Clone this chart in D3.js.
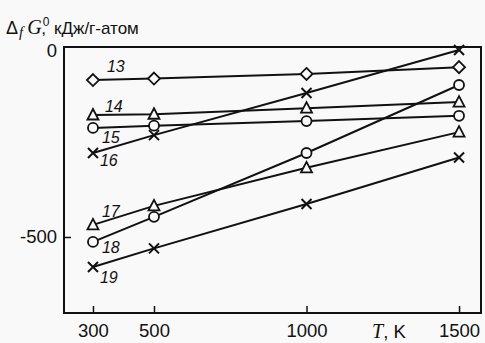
<!DOCTYPE html>
<html>
<head>
<meta charset="utf-8">
<script src="https://cdn.jsdelivr.net/npm/d3@7"></script>
<style>
  body { margin: 0; background: #f9f9f9; }
  svg { display: block; }
</style>
</head>
<body>
<div id="chart"></div>
<script>
// data
const temps = [300, 500, 1000, 1500];
const seriesNames = ["13", "14", "15", "16", "17", "18", "19"];
const s13 = [-87, -83, -71, -53];
const s14 = [-179, -177, -161, -145];
const s15 = [-213, -207, -195, -181];
const s16 = [-279, -232, -121, -8];
const s17 = [-468, -418, -318, -224];
const s18 = [-513, -447, -279, -100];
const s19 = [-579, -530, -413, -291];
const markers = ["diamond", "triangle", "circle", "cross", "triangle", "circle", "cross"];
const xTicks = [300, 500, 1000, 1500];
const yTicks = [0, -500];

const values = [s13, s14, s15, s16, s17, s18, s19];
// label offsets (px) from first point
const labelOff = [[14, -8], [12, -3], [9, 15], [7, 13], [9, -8], [9, 11], [7, 16]];

const width = 485, height = 343;
const bg = "#f9f9f9";
const sans = "'Liberation Sans', Arial, sans-serif";
const serif = "'Liberation Serif', 'Times New Roman', serif";

const svg = d3.select("#chart").append("svg")
  .attr("width", width)
  .attr("height", height);

const x = d3.scaleLinear().domain([205, 1572]).range([64, 481]);
const y = d3.scaleLinear().domain([-700, 0]).range([313, 47]);

// frame
svg.append("rect")
  .attr("x", x.range()[0]).attr("y", y.range()[1])
  .attr("width", x.range()[1] - x.range()[0])
  .attr("height", y.range()[0] - y.range()[1])
  .attr("fill", "none").attr("stroke", "#111").attr("stroke-width", 2);

// x axis (ticks inside)
const xAxis = svg.append("g")
  .attr("transform", "translate(0," + y.range()[0] + ")")
  .call(d3.axisBottom(x).tickValues(xTicks).tickSize(-7).tickPadding(11)
    .tickFormat(d3.format("d")));
xAxis.select(".domain").remove();
xAxis.selectAll("line").attr("stroke", "#111").attr("stroke-width", 1.5);
xAxis.selectAll("text")
  .attr("font-family", sans)
  .attr("font-size", 18.5).attr("fill", "#111");

// y axis (ticks inside)
const yAxis = svg.append("g")
  .attr("transform", "translate(" + x.range()[0] + ",0)")
  .call(d3.axisLeft(y).tickValues(yTicks).tickSize(-7).tickPadding(7)
    .tickFormat(d => d === 0 ? "0" : "-" + Math.abs(d)));
yAxis.select(".domain").remove();
yAxis.selectAll("line").attr("stroke", "#111").attr("stroke-width", 1.5);
yAxis.selectAll(".tick").filter(d => d === 0).select("line").remove();
yAxis.selectAll("text")
  .attr("font-family", sans)
  .attr("font-size", 18.5).attr("fill", "#111");
yAxis.selectAll(".tick").filter(d => d === 0).select("text").attr("dy", "0.5em");

// lines
const line = d3.line().x((d, i) => x(temps[i])).y(d => y(d));
svg.selectAll(".series")
  .data(values)
  .enter().append("path")
  .attr("d", d => line(d))
  .attr("fill", "none").attr("stroke", "#111").attr("stroke-width", 2);

// markers
function drawMarker(g, type) {
  if (type === "diamond") {
    g.append("path").attr("d", "M0,-6L6,0L0,6L-6,0Z")
      .attr("fill", bg).attr("stroke", "#111").attr("stroke-width", 1.8);
  } else if (type === "triangle") {
    g.append("path").attr("d", "M0,-6L5.5,4.5L-5.5,4.5Z")
      .attr("fill", bg).attr("stroke", "#111").attr("stroke-width", 1.8);
  } else if (type === "circle") {
    g.append("circle").attr("r", 5)
      .attr("fill", bg).attr("stroke", "#111").attr("stroke-width", 1.8);
  } else {
    g.append("path").attr("d", "M-5,-5L5,5M-5,5L5,-5")
      .attr("fill", "none").attr("stroke", "#111").attr("stroke-width", 2);
  }
}

values.forEach((vals, si) => {
  vals.forEach((v, i) => {
    const g = svg.append("g").attr("transform", "translate(" + x(temps[i]) + "," + y(v) + ")");
    drawMarker(g, markers[si]);
  });
  svg.append("text")
    .attr("x", x(temps[0]) + labelOff[si][0])
    .attr("y", y(vals[0]) + labelOff[si][1])
    .attr("font-family", sans)
    .attr("font-style", "italic")
    .attr("font-size", 16).attr("fill", "#111")
    .text(seriesNames[si]);
});

// y title
const yt = svg.append("text")
  .attr("x", 6).attr("y", 34)
  .attr("font-family", sans)
  .attr("font-size", 17).attr("fill", "#111");
yt.append("tspan").attr("font-size", 18).text("Δ");
yt.append("tspan").attr("font-family", serif).attr("font-style", "italic")
  .attr("font-size", 15).attr("dx", 1).attr("dy", 3).text("f");
yt.append("tspan").attr("font-family", serif)
  .attr("font-style", "italic").attr("font-size", 20).attr("dy", -3).attr("dx", 4).text("G");
yt.append("tspan").attr("font-size", 12).attr("dx", 1).attr("dy", -8).text("0");
yt.append("tspan").attr("dx", -8).attr("dy", 8).text(",");
yt.append("tspan").attr("dx", 8).text("кДж/г-атом");

// x title
const xt = svg.append("text")
  .attr("x", 372).attr("y", 338)
  .attr("font-family", sans)
  .attr("font-size", 18.5).attr("fill", "#111");
xt.append("tspan").attr("font-family", serif)
  .attr("font-style", "italic").attr("font-size", 20).text("T");
xt.append("tspan").text(", K");
</script>
</body>
</html>
